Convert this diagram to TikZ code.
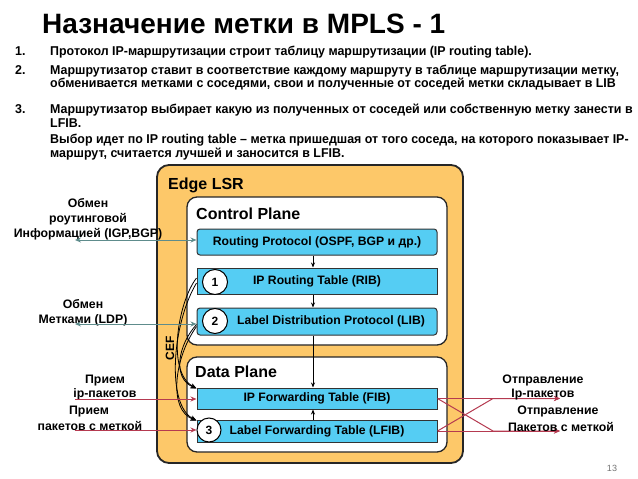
\documentclass[tikz,border=0pt]{standalone}
\usepackage{fontspec}
\setmainfont{Liberation Sans}
\newfontfamily\listfont{Liberation Sans}[FakeStretch=0.97]
\usetikzlibrary{arrows.meta,calc}
\definecolor{orangebg}{HTML}{FDC869}
\definecolor{bluebg}{HTML}{55CDF3}
\definecolor{tealline}{HTML}{5E8C8C}
\definecolor{redline}{HTML}{B53A50}
\tikzset{
  outerbox/.style={draw=black!85, line width=1.8pt, fill=orangebg, rounded corners=12pt},
  planebox/.style={draw=black!85, line width=1.3pt, fill=white, rounded corners=10pt},
  bluebox/.style={draw=black!80, line width=1pt, fill=bluebg, minimum width=240pt, inner sep=0pt, font=\bfseries\fontsize{12.2}{14}\selectfont},
  roundblue/.style={bluebox, rounded corners=3pt},
  circ/.style={circle, draw=black, line width=1pt, fill=white, minimum size=25pt, inner sep=0pt, font=\bfseries\fontsize{12}{14}\selectfont},
  listtxt/.style={anchor=base west, inner sep=0pt, font=\listfont\bfseries\fontsize{12.8}{14}\selectfont},
  sidetxt/.style={anchor=base, inner sep=0pt, font=\bfseries\fontsize{12.3}{14}\selectfont},
  headtxt/.style={anchor=base west, inner sep=0pt, font=\bfseries\fontsize{16}{18}\selectfont},
  flow/.style={-{Stealth[length=5pt,width=4pt]}, line width=0.8pt, black},
  cef/.style={-{Stealth[length=6pt,width=5pt]}, line width=0.8pt, black},
  exch/.style={{Stealth[length=6pt,width=5pt]}-{Stealth[length=6pt,width=5pt]}, line width=1pt, tealline},
  pkt/.style={-{Stealth[length=6pt,width=5pt]}, line width=1pt, redline}
}
\begin{document}
\begin{tikzpicture}[x=1pt,y=-1pt]
\useasboundingbox[fill=white] (0,0) rectangle (638,479);

% title
\node[anchor=base west, inner sep=0pt, font=\bfseries\fontsize{28}{32}\selectfont] (title) at (42,34) {Назначение метки в MPLS - 1};

% list
\node[listtxt] (n1) at (15,55) {1.};
\node[listtxt] (l1) at (50,55) {Протокол IP-маршрутизации строит таблицу маршрутизации (IP routing table).};
\node[listtxt] (n2) at (15,74) {2.};
\node[listtxt] (l2a) at (50,74) {Маршрутизатор ставит в соответствие каждому маршруту в таблице маршрутизации метку,};
\node[listtxt] (l2b) at (50,87) {обменивается метками с соседями, свои и полученные от соседей метки складывает в LIB};
\node[listtxt] (n3) at (15,113) {3.};
\node[listtxt] (l3a) at (50,113) {Маршрутизатор выбирает какую из полученных от соседей или собственную метку занести в};
\node[listtxt] (l3b) at (50,127) {LFIB.};
\node[listtxt] (l4a) at (50,143) {Выбор идет по IP routing table – метка пришедшая от того соседа, на которого показывает IP-};
\node[listtxt] (l4b) at (50,157) {маршрут, считается лучшей и заносится в LFIB.};

% boxes
\draw[outerbox] (157,165) rectangle (463,463);
\draw[planebox] (187,197) rectangle (447,345);
\draw[planebox] (187,357) rectangle (447,452);
\node[headtxt] (edge) at (168,189) {Edge LSR};
\node[headtxt] (ctrl) at (196,219) {Control Plane};
\node[headtxt] (data) at (195,377) {Data Plane};
\node[rotate=90, inner sep=0pt, font=\bfseries\fontsize{12}{14}\selectfont] (cef) at (170,348) {CEF};

\node[roundblue, minimum height=26pt] (RP) at (317,242) {Routing Protocol (OSPF, BGP и др.)};
\node[bluebox, minimum height=26pt] (RIB) at (317,281) {IP Routing Table (RIB)};
\node[roundblue, minimum height=27pt] (LIB) at (317,321.5) {};
\node[inner sep=0pt, font=\bfseries\fontsize{12.2}{14}\selectfont] (LIBt) at (331,321.5) {Label Distribution Protocol (LIB)};
\node[bluebox, minimum height=21pt] (FIB) at (317,398.5) {IP Forwarding Table (FIB)};
\node[bluebox, minimum height=22pt] (LFIB) at (317,431) {Label Forwarding Table (LFIB)};

\node[circ] (c1) at (215,282) {1};
\node[circ] (c2) at (215,321) {2};
\node[circ, minimum size=24pt] (c3) at (209,430) {3};

% vertical flow
\coordinate (colx) at (313,0);
\draw[flow] (RP.south -| colx) -- (RIB.north -| colx);
\draw[flow] (RIB.south -| colx) -- (LIB.north -| colx);
\draw[flow] (LIB.south -| colx) -- (FIB.north -| colx);
\draw[flow] (LFIB.north -| colx) -- (FIB.south -| colx);

% CEF curves
\draw[cef] ($(RIB.west)+(0,-3)$) .. controls (178,302) and (166,372) .. ($(FIB.north west)+(0,1)$);
\draw[cef] ($(RIB.west)+(0,2)$) .. controls (172,324) and (166,405) .. ($(LFIB.north west)+(0,1)$);
\draw[cef] ($(LIB.west)+(0,3)$) .. controls (178,345) and (172,378) .. ($(FIB.north west)+(0,1)$);
\draw[cef] ($(LIB.west)+(0,5)$) .. controls (174,358) and (168,410) .. ($(LFIB.north west)+(0,1)$);

% left labels and exchanges
\node[sidetxt] (t1a) at (88,207) {Обмен};
\node[sidetxt] (t1b) at (88,222) {роутинговой};
\node[sidetxt] (t1c) at (88,237) {Информацией (IGP,BGP)};
\coordinate (igpL) at (75,240);
\draw[exch] (igpL) -- (RP.west |- igpL);

\node[sidetxt] (t2a) at (83,308) {Обмен};
\node[sidetxt] (t2b) at (83,323) {Метками (LDP)};
\coordinate (ldpL) at (75,324);
\draw[exch] (ldpL) -- (LIB.west |- ldpL);

\node[sidetxt] (t3a) at (105,383) {Прием};
\node[sidetxt] (t3b) at (105,397) {ip-пакетов};
\node[sidetxt] (t4a) at (89,414) {Прием};
\node[sidetxt] (t4b) at (90,430) {пакетов с меткой};
\coordinate (ipIn) at (75,399);
\coordinate (lbIn) at (75,430);
\draw[pkt] (ipIn) -- (FIB.west |- ipIn);
\draw[pkt] (lbIn) -- (LFIB.west |- lbIn);

% right outputs
\coordinate (ipOut) at (560,398.5);
\coordinate (lbOut) at (560,431);
\coordinate (ipMid) at (493,398.5);
\coordinate (lbMid) at (493,431);
\draw[pkt] (FIB.east) -- (ipOut);
\draw[pkt] (LFIB.east) -- (lbOut);
\draw[pkt] (FIB.east) -- (lbMid) -- (lbOut);
\draw[pkt] (LFIB.east) -- (ipMid) -- (ipOut);

\node[sidetxt] (t5a) at (543,383) {Отправление};
\node[sidetxt] (t5b) at (543,397) {Ip-пакетов};
\node[sidetxt] (t6a) at (558,414) {Отправление};
\node[sidetxt] (t6b) at (561,431) {Пакетов с меткой};

\node[anchor=base, inner sep=0pt, text=black!55, font=\fontsize{9}{10}\selectfont] (pg) at (612,471) {13};
\end{tikzpicture}
\end{document}
